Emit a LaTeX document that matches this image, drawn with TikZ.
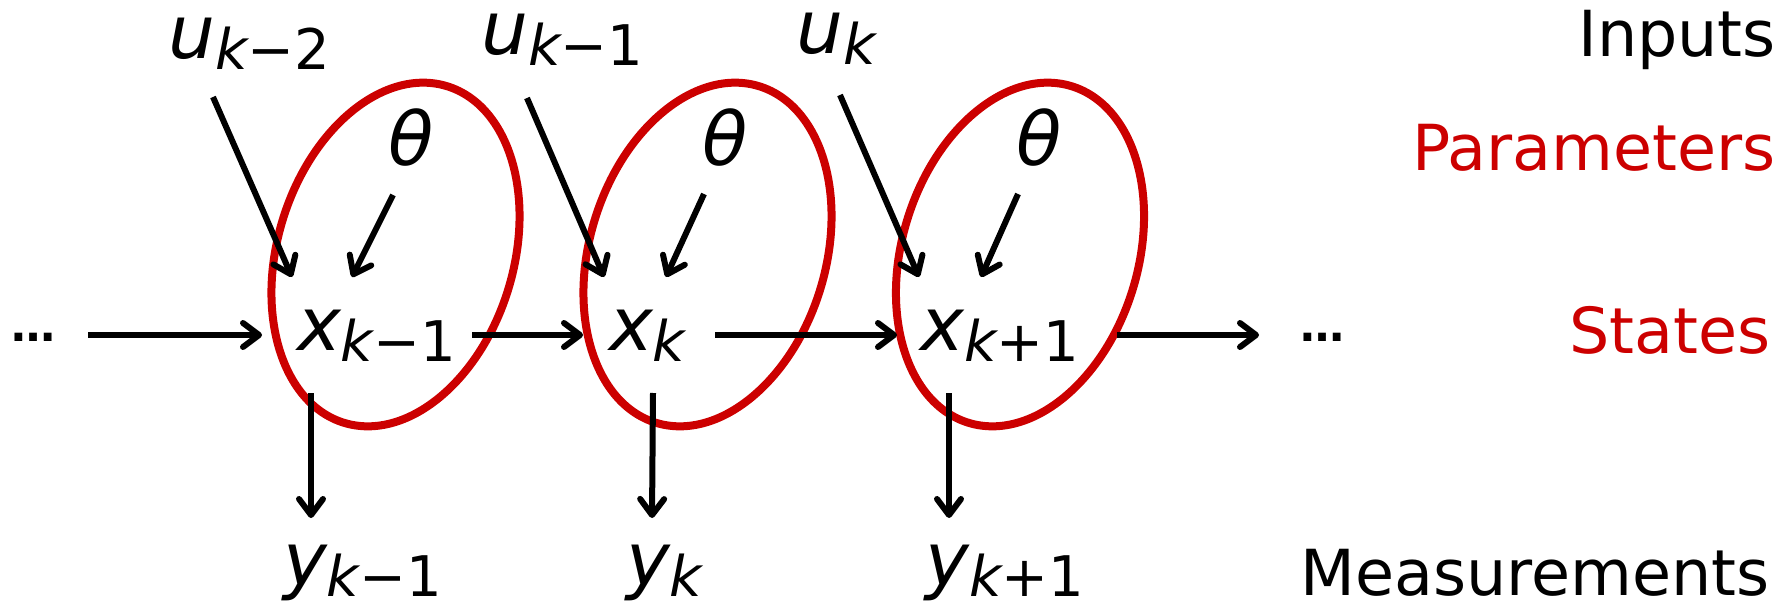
\documentclass[tikz,border=0pt]{standalone}
\usepackage{fontspec}
\setmainfont{DejaVu Sans}
\usepackage{xcolor}
\usepackage{tikz}
\usetikzlibrary{calc,arrows.meta}
\definecolor{paramred}{HTML}{CC0000}

\newcommand{\varfont}{\fontsize{74}{74}\selectfont}
\newcommand{\idxfont}{\fontsize{56}{56}\selectfont}
\newcommand{\rowfont}{\fontsize{63.5}{70}\selectfont}
% variable with lowered index
\newcommand{\seqvar}[3]{{\itshape #1}\raisebox{-11pt}{\idxfont{\itshape #2}#3}}

\begin{document}
\begin{tikzpicture}[
  x=1pt, y=-1pt,
  var/.style={font=\varfont, inner sep=0pt, anchor=base west},
  rowlabel/.style={font=\rowfont, inner sep=0pt, anchor=base east},
  dotsbox/.style={font=\bfseries\fontsize{44}{44}\selectfont, inner sep=0pt, anchor=base west},
  arr/.style={-{Straight Barb[length=16pt,width=24pt,round]}, line width=6pt},
  group/.style={draw=paramred, line width=8pt}
]
  \useasboundingbox (0,0) rectangle (1792,607);

  % inputs
  \node[var] (ukm2) at (168,59) {\seqvar{u}{k}{−2}};
  \node[var] (ukm1) at (481,55) {\seqvar{u}{k}{−1}};
  \node[var] (uk) at (796,54) {\seqvar{u}{k}{}};

  % parameters
  \node[var] (thA) at (388,166) {\itshape θ};
  \node[var] (thB) at (702,166) {\itshape θ};
  \node[var] (thC) at (1016,166) {\itshape θ};

  % states
  \node[dotsbox] (dotsL) at (11,341) {…};
  \node[var] (xkm1) at (297,350) {\seqvar{x}{k}{−1}};
  \node[var] (xk) at (609,350) {\seqvar{x}{k}{}};
  \node[var] (xkp1) at (920,350) {\seqvar{x}{k}{+1}};
  \node[dotsbox] (dotsR) at (1300,341) {…};

  % measurements
  \node[var] (ykm1) at (283,585) {\seqvar{y}{k}{−1}};
  \node[var] (yk) at (626,585) {\seqvar{y}{k}{}};
  \node[var] (ykp1) at (925,585) {\seqvar{y}{k}{+1}};

  % row labels
  \node[rowlabel] (lblin) at (1776,57) {Inputs};
  \node[rowlabel, text=paramred] (lblpar) at (1776,171) {Parameters};
  \node[rowlabel, text=paramred] (lblst) at (1771,353) {States};
  \node[rowlabel] (lblmeas) at (1770,595) {Measurements};

  % parameter groups
  \draw[group, rotate around={-17:(395.5,254.5)}] (395.5,254.5) ellipse [x radius=118, y radius=176];
  \draw[group, rotate around={-17:(707.5,254.5)}] (707.5,254.5) ellipse [x radius=118, y radius=176];
  \draw[group, rotate around={-17:(1020,254.5)}] (1020,254.5) ellipse [x radius=118, y radius=176];

  % inputs -> states
  \draw[arr] ($(ukm2.base west)+(45,38)$) -- ($(xkm1.base west)+(-5,-73)$);
  \draw[arr] ($(ukm1.base west)+(46,43)$) -- ($(xk.base west)+(-5,-73)$);
  \draw[arr] ($(uk.base west)+(44,41)$) -- ($(xkp1.base west)+(-1,-73)$);

  % parameters -> states
  \draw[arr] ($(thA.base west)+(5,29)$) -- ($(xkm1.base west)+(55,-73)$);
  \draw[arr] ($(thB.base west)+(2,28)$) -- ($(xk.base west)+(57,-73)$);
  \draw[arr] ($(thC.base west)+(2,28)$) -- ($(xkp1.base west)+(61,-73)$);

  % state chain
  \draw[arr] ($(dotsL.base west)+(77,-6)$) -- ($(xkm1.base west)+(-35,-15)$);
  \draw[arr] ($(xkm1.base west)+(175,-15)$) -- ($(xk.base west)+(-26,-15)$);
  \draw[arr] ($(xk.base west)+(106,-15)$) -- ($(xkp1.base west)+(-23,-15)$);
  \draw[arr] ($(xkp1.base west)+(197,-15)$) -- ($(dotsR.base west)+(-41,-6)$);

  % states -> measurements
  \draw[arr] ($(xkm1.base west)+(14,43)$) -- ($(ykm1.base west)+(28,-67)$);
  \draw[arr] ($(xk.base west)+(44,43)$) -- ($(yk.base west)+(26,-67)$);
  \draw[arr] ($(xkp1.base west)+(29,43)$) -- ($(ykp1.base west)+(24,-67)$);
\end{tikzpicture}
\end{document}
